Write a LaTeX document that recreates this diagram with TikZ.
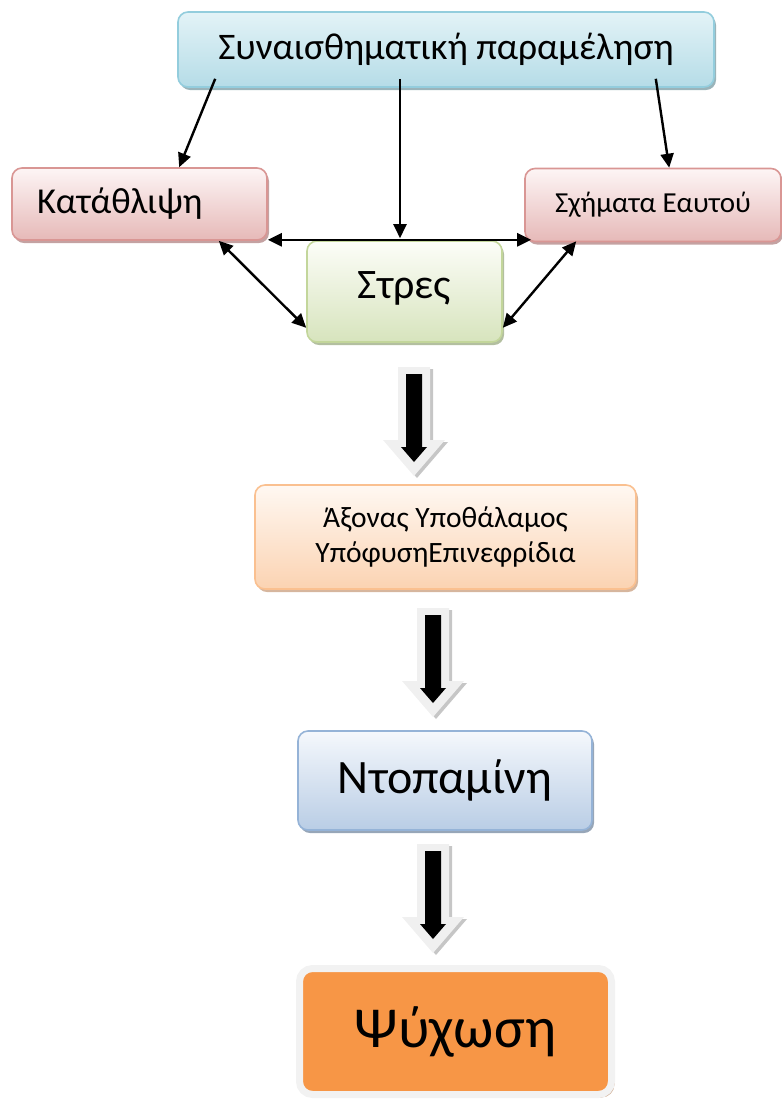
\documentclass[tikz,border=0pt]{standalone}
\usepackage{fontspec}
\setmainfont{Carlito}
\usetikzlibrary{arrows.meta,calc,shadows}
\definecolor{topBd}{HTML}{93CDDD}
\definecolor{topT}{HTML}{E3F3F7}
\definecolor{topBo}{HTML}{B5DCE7}
\definecolor{topSh}{HTML}{9AB4BA}
\definecolor{pinkBd}{HTML}{D99694}
\definecolor{pinkT}{HTML}{FDF5F5}
\definecolor{pinkBo}{HTML}{E6B9B8}
\definecolor{pinkSh}{HTML}{C4A2A2}
\definecolor{grnBd}{HTML}{C3D69B}
\definecolor{grnT}{HTML}{FCFDF8}
\definecolor{grnBo}{HTML}{D7E4BD}
\definecolor{grnSh}{HTML}{B3BFA0}
\definecolor{pchBd}{HTML}{FAC090}
\definecolor{pchT}{HTML}{FFF8F2}
\definecolor{pchBo}{HTML}{FBD3B2}
\definecolor{pchSh}{HTML}{D6B69E}
\definecolor{bluBd}{HTML}{95B3D7}
\definecolor{bluT}{HTML}{F5F8FC}
\definecolor{bluBo}{HTML}{B9CDE5}
\definecolor{bluSh}{HTML}{97A6B8}
\definecolor{orgF}{HTML}{F79646}
\definecolor{orgFr}{HTML}{F2F2F2}
\definecolor{orgSh}{HTML}{D3B59E}
\definecolor{arrLt}{HTML}{F0F0F0}
\definecolor{arrSh}{HTML}{C6C6C6}
\newcommand{\blockarr}[2]{%
  \fill[arrSh] ({#1-16+3},{#2+2}) -- ({#1+16+3},{#2+2}) -- ({#1+16+3},{#2+73+2}) -- ({#1+31+3},{#2+73+2}) -- ({#1+3},{#2+109+2}) -- ({#1-31+3},{#2+73+2}) -- ({#1-16+3},{#2+73+2}) -- cycle;
  \fill[arrLt] ({#1-16},{#2}) -- ({#1+16},{#2}) -- ({#1+16},{#2+73}) -- ({#1+31},{#2+73}) -- ({#1},{#2+109}) -- ({#1-31},{#2+73}) -- ({#1-16},{#2+73}) -- cycle;
  \fill[black] ({#1-8},{#2+7}) -- ({#1+8},{#2+7}) -- ({#1+8},{#2+80}) -- ({#1+13},{#2+80}) -- ({#1},{#2+95}) -- ({#1-13},{#2+80}) -- ({#1-8},{#2+80}) -- cycle;
}
\begin{document}
\begin{tikzpicture}[x=1pt,y=-1pt,
  box/.style={draw, line width=1.6pt, rounded corners=10pt, inner sep=0pt, text=black},
  topbox/.style={box, draw=topBd, top color=topT, bottom color=topBo,
    drop shadow={shadow xshift=2pt, shadow yshift=-3pt, fill=topSh, opacity=1}},
  pinkbox/.style={box, draw=pinkBd, top color=pinkT, bottom color=pinkBo,
    drop shadow={shadow xshift=2pt, shadow yshift=-3pt, fill=pinkSh, opacity=1}},
  grnbox/.style={box, draw=grnBd, top color=grnT, bottom color=grnBo,
    drop shadow={shadow xshift=2pt, shadow yshift=-3pt, fill=grnSh, opacity=1}},
  pchbox/.style={box, draw=pchBd, top color=pchT, bottom color=pchBo,
    drop shadow={shadow xshift=2pt, shadow yshift=-3pt, fill=pchSh, opacity=1}},
  blubox/.style={box, draw=bluBd, top color=bluT, bottom color=bluBo,
    drop shadow={shadow xshift=2pt, shadow yshift=-3pt, fill=bluSh, opacity=1}},
  orgbox/.style={draw=orgFr, line width=7pt, rounded corners=13pt, fill=orgF, inner sep=0pt,
    drop shadow={shadow xshift=3pt, shadow yshift=-3pt, fill=orgSh, opacity=1}},
  conn/.style={line width=2.4pt, -{Triangle[length=14pt,width=13pt]}},
  conn2/.style={line width=2.4pt, {Triangle[length=14pt,width=13pt]}-{Triangle[length=14pt,width=13pt]}}
]
\useasboundingbox (0,0) rectangle (782,1104);

\node[topbox, minimum width=536pt, minimum height=75pt, font=\fontsize{37.5}{40}\selectfont] (top) at (446,49.5) {Συναισθηματική παραμέληση};
\node[pinkbox, minimum width=255pt, minimum height=72pt, text width=205pt, inner xsep=25pt, align=left, font=\fontsize{36.5}{40}\selectfont] (kat) at (139.5,204) {\raisebox{-2pt}{Κατάθλιψη}};
\node[pinkbox, minimum width=256pt, minimum height=73pt, font=\fontsize{29}{32}\selectfont] (sch) at (653,205) {\raisebox{4pt}{Σχήματα Εαυτού}};
\node[grnbox, minimum width=195pt, minimum height=101pt, font=\fontsize{42}{44}\selectfont] (str) at (404.5,291.5) {\raisebox{12pt}{Στρες}};
\node[pchbox, minimum width=381pt, minimum height=104pt, align=center, font=\fontsize{29.5}{35}\selectfont] (axn) at (445.5,537) {Άξονας Υποθάλαμος\\ΥπόφυσηΕπινεφρίδια};
\node[blubox, minimum width=294pt, minimum height=99pt, font=\fontsize{48}{50}\selectfont] (dop) at (445,780.5) {\raisebox{2pt}{Ντοπαμίνη}};
\node[orgbox, minimum width=312pt, minimum height=126pt, font=\fontsize{58}{60}\selectfont] (psy) at (455.5,1031.5) {\raisebox{4pt}{Ψύχωση}};

\draw[conn] ($(top.south west)+(38,-9)$) -- ($(kat.north west)+(168,0)$);
\draw[conn] ($(top.south)+(-46,-9)$) -- ($(str.north)+(-4.5,-2)$);
\draw[conn] ($(top.south east)+(-59,-9)$) -- ($(sch.north west)+(145,0)$);
\draw[conn2] ($(kat.south east)+(0,-1)$) -- ($(sch.south west)+(7,-2.5)$);
\draw[conn2] ($(kat.south east)+(-49,0)$) -- ($(str.south west)+(0,-15)$);
\draw[conn2] ($(sch.south west)+(52,-1)$) -- ($(str.south east)+(0,-15)$);

\blockarr{414}{367}
\blockarr{433}{608}
\blockarr{433}{844}
\end{tikzpicture}
\end{document}
